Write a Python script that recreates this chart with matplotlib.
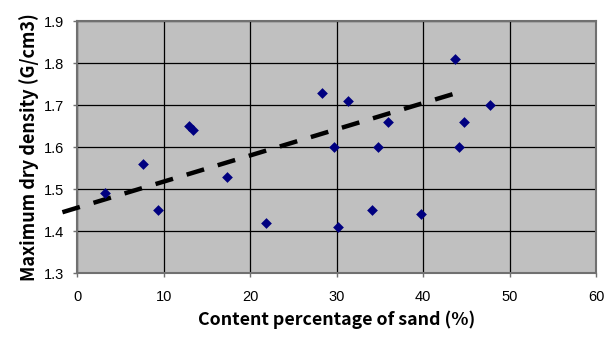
import matplotlib
matplotlib.use("Agg")
import matplotlib.pyplot as plt

# sand content (%) vs maximum dry density (G/cm3)
sand = [3.2, 7.6, 9.4, 12.9, 13.4, 17.3, 21.8, 28.3, 29.7, 30.2, 31.3,
        34.1, 34.8, 35.9, 39.7, 43.7, 44.2, 44.7, 47.7]
density = [1.49, 1.56, 1.45, 1.65, 1.64, 1.53, 1.42, 1.73, 1.60, 1.41, 1.71,
           1.45, 1.60, 1.66, 1.44, 1.81, 1.60, 1.66, 1.70]

# linear trend line end points
trend_x = [-1.7, 43.4]
trend_y = [1.445, 1.726]

xticks = [0, 10, 20, 30, 40, 50, 60]
yticks = [1.3, 1.4, 1.5, 1.6, 1.7, 1.8, 1.9]

fig = plt.figure(figsize=(6.12, 3.41), dpi=100)
ax = fig.add_axes([0.126, 0.199, 0.848, 0.739])
ax.set_facecolor("#C0C0C0")

ax.plot(trend_x, trend_y, color="black", linestyle=(0, (4.1, 3.2)), linewidth=3.2,
        clip_on=False, zorder=3, solid_capstyle="butt", dash_capstyle="butt")
ax.scatter(sand, density, marker="D", s=30, color="#000080", zorder=4, linewidths=0)

ax.set_xlim(0, 60)
ax.set_ylim(1.3, 1.9)
ax.set_xticks(xticks)
ax.set_yticks(yticks)
ax.set_xticklabels([str(v) for v in xticks])
ax.set_yticklabels(["%.1f" % v for v in yticks])
ax.grid(True, color="black", linewidth=0.9)
ax.set_axisbelow(True)
for s in ax.spines.values():
    s.set_color("#707070")
    s.set_linewidth(1.5)
ax.tick_params(axis="both", length=3, width=1, color="#707070", labelsize=10.5)
ax.tick_params(axis="x", pad=9)
ax.tick_params(axis="y", pad=6)
for lab in ax.get_xticklabels() + ax.get_yticklabels():
    lab.set_fontfamily("Liberation Sans")

ax.set_xlabel("Content percentage of sand (%)", fontsize=12.8, fontweight="bold",
              family="Noto Sans CJK JP", labelpad=5)
ax.set_ylabel("Maximum dry density (G/cm3)", fontsize=13, fontweight="bold",
              family="Noto Sans CJK JP", labelpad=4)

fig.savefig("out.png", dpi=100)
